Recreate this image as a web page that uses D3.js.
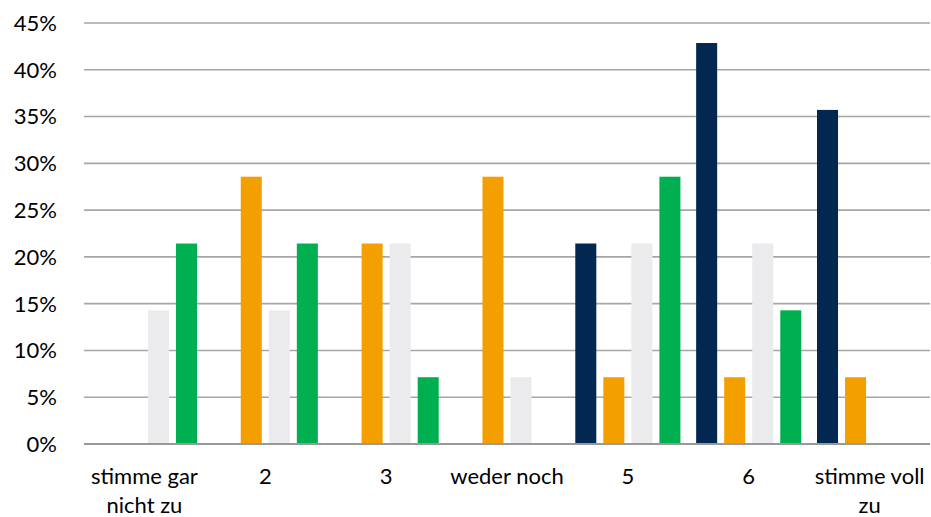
<!DOCTYPE html>
<html><head><meta charset="utf-8">
<script src="https://cdn.jsdelivr.net/npm/d3@7"></script>
<style>body{margin:0;background:#fff}svg{display:block}</style>
</head><body>
<script>
const categories = [["stimme gar","nicht zu"],["2"],["3"],["weder noch"],["5"],["6"],["stimme voll","zu"]];
const seriesNames = ["A","B","C","D"];
const seriesColors = ["#022751","#f49f00","#ebebed","#00b050"];
const valuesA = [0,0,0,0,21.43,42.86,35.71];
const valuesB = [0,28.57,21.43,28.57,7.14,7.14,7.14];
const valuesC = [14.29,14.29,21.43,7.14,21.43,21.43,0];
const valuesD = [21.43,21.43,7.14,0,28.57,14.29,0];
const yTicks = [0,5,10,15,20,25,30,35,40,45];

const W=931,H=517;
const m={left:84,right:1,top:23,bottom:73};
const svg=d3.select("body").append("svg").attr("width",W).attr("height",H);
const x=d3.scaleBand().domain(d3.range(categories.length)).range([m.left,W-m.right]).paddingInner(0.13).paddingOuter(0.065);
const y=d3.scaleLinear().domain([0,45]).range([H-m.bottom,m.top]);
const xs=d3.scaleBand().domain(d3.range(4)).range([0,x.bandwidth()]).paddingInner(0.25);

const font="Lato, 'Open Sans', sans-serif";
const fs=22;
// grid
svg.append("g").selectAll("line").data(yTicks.filter(d=>d>0)).join("line")
 .attr("x1",m.left).attr("x2",W-m.right).attr("y1",d=>y(d)).attr("y2",d=>y(d))
 .attr("stroke","#a6a6a6").attr("stroke-width",1.6);
// y labels
svg.append("g").selectAll("text").data(yTicks).join("text")
 .attr("x",57).attr("y",d=>y(d)).attr("dy","0.36em").attr("text-anchor","end")
 .attr("font-family",font).attr("font-size",fs).attr("fill","#000").text(d=>d+"%");
// bars
const all=[valuesA,valuesB,valuesC,valuesD];
all.forEach((vals,si)=>{
 svg.append("g").selectAll("rect").data(vals).join("rect")
  .attr("x",(d,i)=>x(i)+xs(si)).attr("width",xs.bandwidth())
  .attr("y",d=>y(d)).attr("height",d=>y(0)-y(d))
  .attr("fill",seriesColors[si]);
});
// baseline
svg.append("line").attr("x1",m.left).attr("x2",W-m.right).attr("y1",y(0)).attr("y2",y(0))
 .attr("stroke","#999").attr("stroke-width",2);
// x labels
const xl=svg.append("g").selectAll("text").data(categories).join("text")
 .attr("text-anchor","middle").attr("font-family",font).attr("font-size",fs).attr("fill","#000");
xl.each(function(lines,i){
 const t=d3.select(this);
 lines.forEach((l,j)=>t.append("tspan").attr("x",x(i)+x.bandwidth()/2).attr("y",y(0)+40+j*29).text(l));
});
</script>
</body></html>
